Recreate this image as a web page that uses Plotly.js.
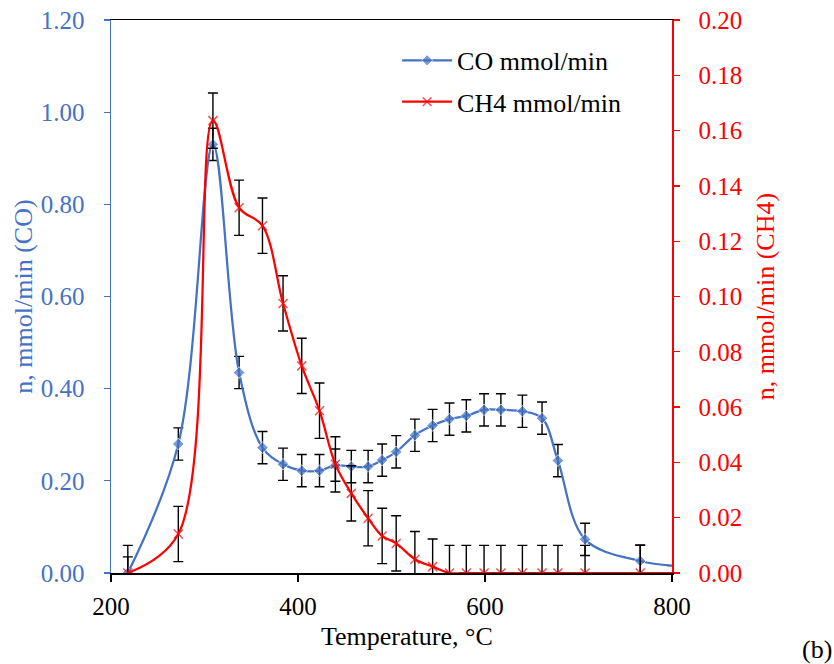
<!DOCTYPE html>
<html>
<head>
<meta charset="utf-8">
<script src="https://cdn.plot.ly/plotly-3.0.1.min.js"></script>
<style>html,body{margin:0;padding:0;background:#fff;}#chart{width:834px;height:664px;}</style>
</head>
<body>
<div id="chart"></div>
<script>
// Temperature (°C)
var temperature = [218, 272, 309, 337, 362, 384, 404, 423, 440, 457, 475, 490, 505, 525, 544, 562, 580, 599, 617, 640, 661, 678, 707, 766, 800];
// CO mmol/min (left axis)
var coValues = [0.00, 0.28, 0.93, 0.435, 0.272, 0.236, 0.222, 0.222, 0.234, 0.231, 0.231, 0.245, 0.263, 0.299, 0.320, 0.334, 0.341, 0.354, 0.354, 0.351, 0.336, 0.244, 0.073, 0.026, 0.016];
// CH4 mmol/min (right axis)
var ch4Values = [0.000, 0.0141, 0.1636, 0.1321, 0.1256, 0.0975, 0.0749, 0.0587, 0.0393, 0.0288, 0.0198, 0.0134, 0.0107, 0.0050, 0.0023, 0, 0, 0, 0, 0, 0, 0, 0, 0, 0];
// whether each point is a measured point with marker/error bar
var measured = [1,1,1,1,1,1,1,1,1,1,1,1,1,1,1,1,1,1,1,1,1,1,1,1,0];
var coError = 0.035;
var ch4Error = 0.01;
var xTicks = [200, 400, 600, 800];
var yTicks = [0, 0.2, 0.4, 0.6, 0.8, 1.0, 1.2];
var y2Ticks = [0, 0.02, 0.04, 0.06, 0.08, 0.10, 0.12, 0.14, 0.16, 0.18, 0.20];

var coErr = measured.map(function(m){return m ? coError : 0;});
var ch4Err = measured.map(function(m){return m ? ch4Error : 0;});

var FONT = 'Liberation Serif';
var BLUE = '#4472C4';
var RED = '#FF0000';
var FS = 26;

var traces = [
  {
    x: temperature, y: coValues, name: 'CO mmol/min', type: 'scatter', mode: 'lines+markers',
    line: {color: BLUE, width: 2.25, shape: 'spline', smoothing: 1},
    marker: {symbol: 'diamond', color: BLUE, size: measured.map(function(m){return m ? 9 : 0;})},
    error_y: {type: 'data', array: coErr, visible: true, color: '#000000', thickness: 1.4, width: 5},
    yaxis: 'y', legend: 'legend'
  },
  {
    x: temperature, y: ch4Values, name: 'CH4 mmol/min', type: 'scatter', mode: 'lines+markers',
    line: {color: RED, width: 2.25, shape: 'spline', smoothing: 1},
    marker: {symbol: 'x-thin', color: RED, size: measured.map(function(m){return m ? 9 : 0;}), line: {color: RED, width: 1.5}},
    error_y: {type: 'data', array: ch4Err, visible: true, color: '#000000', thickness: 1.4, width: 5},
    yaxis: 'y2', legend: 'legend2'
  }
];

var legendBase = {x: 0.51, xanchor: 'left', yanchor: 'middle', bgcolor: 'rgba(0,0,0,0)',
                  font: {family: FONT, size: FS, color: '#000000'}, itemwidth: 50};

var layout = {
  width: 834, height: 664,
  margin: {l: 111, r: 162, t: 20, b: 91},
  paper_bgcolor: '#ffffff', plot_bgcolor: '#ffffff',
  font: {family: FONT, size: FS, color: '#000000'},
  showlegend: true,
  legend: Object.assign({}, legendBase, {y: 0.927}),
  legend2: Object.assign({}, legendBase, {y: 0.852}),
  xaxis: {
    range: [200, 800], tickvals: xTicks, ticktext: xTicks.map(String),
    showgrid: false, zeroline: false, showline: true, linecolor: '#000000', linewidth: 1.5, mirror: true,
    ticks: 'outside', ticklen: 7, tickcolor: '#000000', tickwidth: 1.3,
    ticklabelstandoff: 3,
    tickfont: {family: FONT, size: 25, color: '#000000'}
  },
  yaxis: {
    range: [0, 1.2], tickvals: yTicks, ticktext: yTicks.map(function(v){return v.toFixed(2);}),
    showgrid: false, zeroline: false, showline: true, linecolor: BLUE, linewidth: 1.5,
    ticks: 'outside', ticklen: 6, tickcolor: BLUE, tickwidth: 1.3,
    ticklabelstandoff: 14,
    tickfont: {family: FONT, size: 25, color: BLUE},
    title: {text: 'n, mmol/min (CO)', font: {family: FONT, size: FS, color: BLUE}, standoff: 0}
  },
  yaxis2: {
    range: [0, 0.2], overlaying: 'y', side: 'right',
    tickvals: y2Ticks, ticktext: y2Ticks.map(function(v){return v.toFixed(2);}),
    showgrid: false, zeroline: false, showline: true, linecolor: RED, linewidth: 1.5,
    ticks: 'outside', ticklen: 6, tickcolor: RED, tickwidth: 1.3,
    ticklabelstandoff: 14,
    tickfont: {family: FONT, size: 25, color: RED},
    title: {text: 'n, mmol/min (CH4)', font: {family: FONT, size: FS, color: RED}, standoff: 14}
  },
  annotations: [
    {text: 'Temperature, °C', xref: 'paper', yref: 'paper', x: 0.528, y: -0.114, xanchor: 'center', yanchor: 'middle',
     showarrow: false, font: {family: FONT, size: FS, color: '#000000'}},
    {text: '(b)', xref: 'paper', yref: 'paper', x: 1.2887, y: -0.139, xanchor: 'right', yanchor: 'middle',
     showarrow: false, font: {family: FONT, size: FS, color: '#000000'}}
  ]
};

Plotly.newPlot('chart', traces, layout, {displayModeBar: false, staticPlot: true});
</script>
</body>
</html>
